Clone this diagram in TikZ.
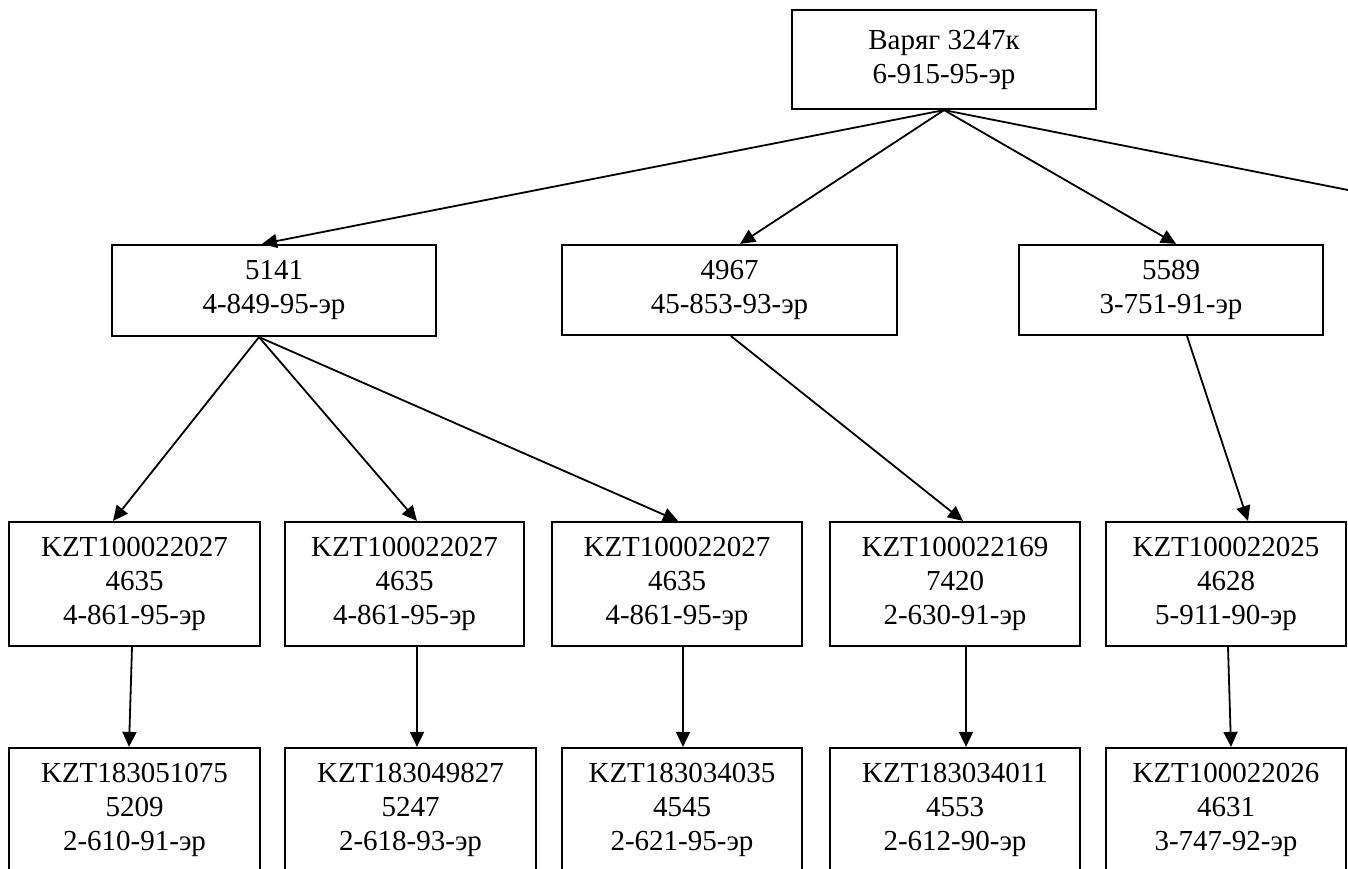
\documentclass[tikz,border=0pt]{standalone}
\usepackage{fontspec}
\setmainfont{Liberation Serif}
\usetikzlibrary{arrows.meta}
\begin{document}
\begin{tikzpicture}[
  x=1pt,y=-1pt,
  >={Triangle[length=15pt,width=14pt]},
  regbox/.style={draw,line width=2.2pt,align=center,inner sep=0pt,minimum height=124pt,
    font=\fontsize{29}{34}\selectfont},
  link/.style={->,line width=1.8pt}
]
  \useasboundingbox (0,0) rectangle (1348,869);
  \clip (0,0) rectangle (1348,869);

  % root and second row
  \node[regbox,minimum width=304pt,minimum height=99pt] (root) at (944,59.5) {Варяг 3247к\\6-915-95-эр};
  \node[regbox,minimum width=324pt,minimum height=91pt] (n5141) at (274,290.5) {5141\\4-849-95-эр};
  \node[regbox,minimum width=335pt,minimum height=90pt] (n4967) at (729.5,290) {4967\\45-853-93-эр};
  \node[regbox,minimum width=304pt,minimum height=90pt] (n5589) at (1171,290) {5589\\3-751-91-эр};
  \coordinate (offright) at (1348,190);

  % third row
  \node[regbox,minimum width=251pt] (k1) at (134.5,584) {KZT100022027\\4635\\4-861-95-эр};
  \node[regbox,minimum width=239pt] (k2) at (404.5,584) {KZT100022027\\4635\\4-861-95-эр};
  \node[regbox,minimum width=250pt] (k3) at (677,584) {KZT100022027\\4635\\4-861-95-эр};
  \node[regbox,minimum width=250pt] (k4) at (955,584) {KZT100022169\\7420\\2-630-91-эр};
  \node[regbox,minimum width=240pt] (k5) at (1226,584) {KZT100022025\\4628\\5-911-90-эр};

  % fourth row
  \node[regbox,minimum width=251pt] (m1) at (134.5,810) {KZT183051075\\5209\\2-610-91-эр};
  \node[regbox,minimum width=251pt] (m2) at (410.5,810) {KZT183049827\\5247\\2-618-93-эр};
  \node[regbox,minimum width=240pt] (m3) at (682,810) {KZT183034035\\4545\\2-621-95-эр};
  \node[regbox,minimum width=250pt] (m4) at (955,810) {KZT183034011\\4553\\2-612-90-эр};
  \node[regbox,minimum width=240pt] (m5) at (1226,810) {KZT100022026\\4631\\3-747-92-эр};

  \draw[link] (root.south) -- ([xshift=-12pt]n5141.north);
  \draw[link] (root.south) -- ([xshift=10.5pt]n4967.north);
  \draw[link] (root.south) -- ([xshift=5pt]n5589.north);
  \draw[line width=1.8pt] (root.south) -- (offright);

  \draw[link] ([xshift=-15pt]n5141.south) -- ([xshift=-21.5pt]k1.north);
  \draw[link] ([xshift=-15pt]n5141.south) -- ([xshift=12.5pt]k2.north);
  \draw[link] ([xshift=-15pt]n5141.south) -- ([xshift=1pt]k3.north);
  \draw[link] ([xshift=1.5pt]n4967.south) -- ([xshift=8pt]k4.north);
  \draw[link] ([xshift=16pt]n5589.south) -- ([xshift=22pt]k5.north);

  \draw[link] ([xshift=-2.5pt]k1.south) -- ([xshift=-5.5pt]m1.north);
  \draw[link] ([xshift=12.5pt]k2.south) -- ([xshift=6.5pt]m2.north);
  \draw[link] ([xshift=6pt]k3.south) -- ([xshift=1pt]m3.north);
  \draw[link] ([xshift=11pt]k4.south) -- ([xshift=11pt]m4.north);
  \draw[link] ([xshift=2pt]k5.south) -- ([xshift=5pt]m5.north);
\end{tikzpicture}
\end{document}
